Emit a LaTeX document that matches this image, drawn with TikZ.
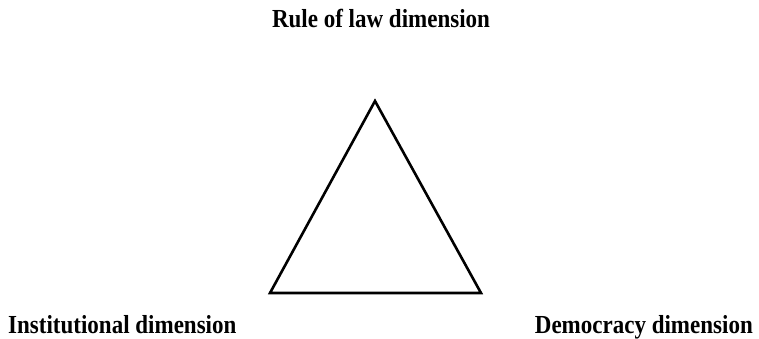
\documentclass[tikz,border=0pt]{standalone}
\usepackage{fontspec}
\setmainfont{Liberation Serif}
\usepackage{tikz}

\tikzset{dimlabel/.style={font=\fontsize{26}{29}\selectfont\bfseries, inner sep=0pt}}
\newcommand{\squeeze}[1]{\scalebox{0.885}[1]{#1}}

\begin{document}
\begin{tikzpicture}[x=1pt, y=-1pt]
	\useasboundingbox (0,0) rectangle (759,338);
	\coordinate (apex) at (375,101);
	\coordinate (left) at (270,293);
	\coordinate (right) at (481,293);
	\draw[line width=2.6pt, line join=miter] (apex) -- (right) -- (left) -- cycle;
	\node[dimlabel, anchor=base] (rule) at (381,27) {\squeeze{Rule of law dimension}};
	\node[dimlabel, anchor=base west] (inst) at (8,333) {\squeeze{Institutional dimension}};
	\node[dimlabel, anchor=base east] (demo) at (753,333) {\squeeze{Democracy dimension}};
\end{tikzpicture}
\end{document}
